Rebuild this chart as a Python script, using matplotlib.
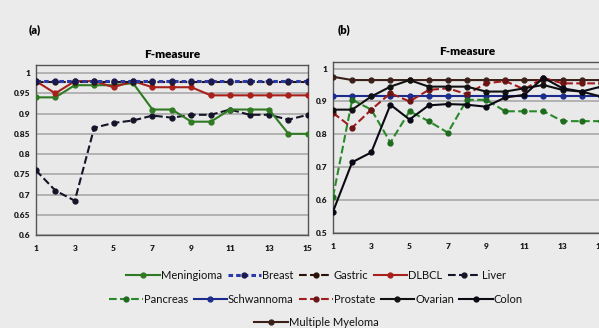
import matplotlib
matplotlib.use('Agg')
import matplotlib.pyplot as plt

plt.rcParams['font.family'] = ['Lato', 'DejaVu Sans']

# iterations on the x axis
iters = list(range(1, 16))

# panel (a)
meningioma = [0.94, 0.94, 0.97, 0.97, 0.97, 0.975, 0.91, 0.91, 0.88, 0.88, 0.91, 0.91, 0.91, 0.85, 0.85]
breast = [0.98] * 15
gastric = [0.977] * 15
dlbcl = [0.98, 0.95, 0.98, 0.98, 0.965, 0.98, 0.965, 0.965, 0.965, 0.945, 0.945, 0.945, 0.945, 0.945, 0.945]
liver = [0.76, 0.71, 0.685, 0.865, 0.877, 0.883, 0.895, 0.89, 0.897, 0.897, 0.91, 0.897, 0.897, 0.885, 0.897]

# panel (b)
pancreas = [0.61, 0.905, 0.875, 0.775, 0.87, 0.84, 0.805, 0.905, 0.905, 0.87, 0.87, 0.87, 0.84, 0.84, 0.84]
schwannoma = [0.915] * 15
prostate = [0.865, 0.82, 0.875, 0.925, 0.9, 0.935, 0.94, 0.922, 0.955, 0.962, 0.937, 0.972, 0.955, 0.955, 0.955]
ovarian = [0.875, 0.875, 0.915, 0.945, 0.965, 0.945, 0.945, 0.945, 0.93, 0.93, 0.94, 0.95, 0.935, 0.93, 0.915]
colon = [0.565, 0.715, 0.745, 0.89, 0.845, 0.888, 0.892, 0.89, 0.884, 0.912, 0.92, 0.972, 0.94, 0.93, 0.945]
myeloma = [0.975, 0.965, 0.965, 0.965, 0.965, 0.965, 0.965, 0.965, 0.965, 0.965, 0.965, 0.965, 0.965, 0.965, 0.965]

a_ticks = [0.6, 0.65, 0.7, 0.75, 0.8, 0.85, 0.9, 0.95, 1.0]
a_labels = ['0.6', '0.65', '0.7', '0.75', '0.8', '0.85', '0.9', '0.95', '1']
b_ticks = [0.5, 0.6, 0.7, 0.8, 0.9, 1.0]
b_labels = ['0.5', '0.6', '0.7', '0.8', '0.9', '1']
x_ticks = [1, 3, 5, 7, 9, 11, 13, 15]

bg = '#ebebeb'
fig = plt.figure(figsize=(5.99, 3.28), dpi=100, facecolor=bg)

ax1 = fig.add_axes([0.060, 0.283, 0.454, 0.519])
ax2 = fig.add_axes([0.556, 0.290, 0.447, 0.521])

lw = 1.5
ms = 3.5

# (a)
ax1.plot(iters, liver, '--', color='#141428', lw=lw, marker='o', ms=ms, label='Liver', zorder=3)
ax1.plot(iters, meningioma, '-', color='#2f7a22', lw=lw, marker='o', ms=ms, label='Meningioma', zorder=4)
ax1.plot(iters, dlbcl, '-', color='#a8201c', lw=lw, marker='o', ms=ms, label='DLBCL', zorder=4)
ax1.plot(iters, gastric, '--', color='#2a1208', lw=lw, marker='o', ms=ms, label='Gastric', zorder=5)
ax1.plot(iters, breast, '--', color='#2a3aa8', lw=2.2, dashes=(1.5, 1), marker='o', ms=ms,
         mfc='#1a1a50', mec='#1a1a50', label='Breast', zorder=5)

# (b)
ax2.plot(iters, myeloma, '-', color='#3a2018', lw=lw, marker='o', ms=ms, label='Multiple Myeloma', zorder=3)
ax2.plot(iters, schwannoma, '-', color='#1c2c8c', lw=lw, marker='o', ms=ms, label='Schwannoma', zorder=3)
ax2.plot(iters, pancreas, '--', color='#2a8a2a', lw=lw, marker='o', ms=ms, mfc='#1f6a1f', mec='#1f6a1f', label='Pancreas', zorder=4)
ax2.plot(iters, prostate, '--', color='#a01e1e', lw=lw, marker='o', ms=ms, mfc='#6a1414', mec='#6a1414', label='Prostate', zorder=4)
ax2.plot(iters, ovarian, '-', color='#111111', lw=lw, marker='o', ms=ms, label='Ovarian', zorder=5)
ax2.plot(iters, colon, '-', color='#0a0a14', lw=lw, marker='o', ms=ms, label='Colon', zorder=5)

for ax, ticks, labels, ylo in [(ax1, a_ticks, a_labels, 0.6), (ax2, b_ticks, b_labels, 0.5)]:
    ax.set_facecolor('#e9e9e9')
    ax.set_xlim(1, 15)
    ax.set_ylim(ylo, 1.02)
    ax.set_yticks(ticks)
    ax.set_yticklabels(labels)
    ax.set_xticks(x_ticks)
    ax.set_xticklabels([str(t) for t in x_ticks])
    ax.tick_params(length=0, labelsize=6, colors='#1a1a1a')
    ax.tick_params(axis='x', pad=7)
    ax.tick_params(axis='y', pad=4)
    for lab in ax.get_xticklabels() + ax.get_yticklabels():
        lab.set_fontweight('heavy')
    ax.grid(axis='y', color='#a9a9a9', linewidth=1.2)
    ax.set_axisbelow(True)
    for s in ax.spines.values():
        s.set_color('#555555')
        s.set_linewidth(1.0)
    ax.set_title('F-measure', fontsize=8.5, fontweight='heavy', pad=5)

fig.text(0.047, 0.900, '(a)', fontsize=8, fontweight='heavy')
fig.text(0.563, 0.900, '(b)', fontsize=8, fontweight='heavy')

# legend, three rows
h = {l.get_label(): l for l in ax1.get_lines() + ax2.get_lines()}
rows = [['Meningioma', 'Breast', 'Gastric', 'DLBCL', 'Liver'],
        ['Pancreas', 'Schwannoma', 'Prostate', 'Ovarian', 'Colon'],
        ['Multiple Myeloma']]
row_y = [0.159, 0.087, 0.017]
for names, y in zip(rows, row_y):
    handles = [h[n] for n in names]
    leg = fig.legend(handles, names, loc='center', bbox_to_anchor=(0.528, y), ncol=len(names),
                     frameon=False, fontsize=8, handlelength=3.0, handletextpad=0.1,
                     columnspacing=0.5, borderpad=0)
    for t in leg.get_texts():
        t.set_color('#111111')

fig.savefig('out.png', dpi=100, facecolor=bg)
